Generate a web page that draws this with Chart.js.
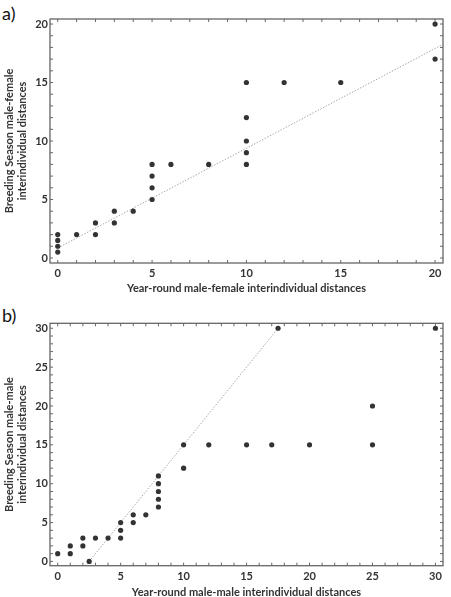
<!DOCTYPE html>
<html>
<head>
<meta charset="utf-8">
<script src="https://cdn.jsdelivr.net/npm/chart.js@4"></script>
<style>
  html, body { margin: 0; padding: 0; background: #fff; overflow: hidden; }
  #wrap { position: relative; width: 451px; height: 597px; }
  canvas { position: absolute; left: 0; }
  .panel-tag { position: absolute; left: 2px; font-family: "Lato", sans-serif; font-size: 18px; color: #111; }
</style>
</head>
<body>
<div id="wrap">
  <div class="panel-tag" style="top:2px;">a)</div>
  <div class="panel-tag" style="top:304px;">b)</div>
  <canvas id="chartA" width="451" height="300" style="top:0;"></canvas>
  <canvas id="chartB" width="451" height="304" style="top:300px;"></canvas>
</div>
<script>
// panel a: male-female distances
const aX = [0, 0, 0, 0, 1, 2, 2, 3, 3, 4, 5, 5, 5, 5, 6, 8, 10, 10, 10, 10, 10, 12, 15, 20, 20];
const aY = [0.5, 1, 1.5, 2, 2, 2, 3, 3, 4, 4, 5, 6, 7, 8, 8, 8, 8, 9, 10, 12, 15, 15, 15, 17, 20];
const aLineX = [0, 20.4];
const aLineY = [0.85, 18.25];
const aTicks = [0, 5, 10, 15, 20];

// panel b: male-male distances
const bX = [0, 1, 1, 2, 2, 2.5, 3, 4, 5, 5, 5, 6, 6, 7, 8, 8, 8, 8, 8, 10, 10, 12, 15, 17, 20, 25, 25, 17.5, 30];
const bY = [1, 1, 2, 2, 3, 0, 3, 3, 3, 4, 5, 5, 6, 6, 7, 8, 9, 10, 11, 12, 15, 15, 15, 15, 15, 15, 20, 30, 30];
const bLineX = [2.5, 17.5];
const bLineY = [0, 30];
const bTicks = [0, 5, 10, 15, 20, 25, 30];

const FONT = 'Lato, sans-serif';
const TEXT = '#333';

// frame + small inward ticks on all four sides
const framePlugin = {
  id: 'frameTicks',
  afterDraw(chart) {
    const ctx = chart.ctx;
    const ca = chart.chartArea;
    const sx = chart.scales.x, sy = chart.scales.y;
    const len = 3;
    ctx.save();
    ctx.setLineDash([]);
    ctx.globalAlpha = 1;
    ctx.strokeStyle = '#666';
    ctx.lineWidth = 1.3;
    ctx.strokeRect(ca.left, ca.top, ca.right - ca.left, ca.bottom - ca.top);
    ctx.lineWidth = 1;
    ctx.beginPath();
    for (let v = Math.ceil(sx.min); v <= sx.max; v++) {
      const px = sx.getPixelForValue(v);
      ctx.moveTo(px, ca.bottom); ctx.lineTo(px, ca.bottom - len);
      ctx.moveTo(px, ca.top); ctx.lineTo(px, ca.top + len);
    }
    for (let v = Math.ceil(sy.min); v <= sy.max; v++) {
      const py = sy.getPixelForValue(v);
      ctx.moveTo(ca.left, py); ctx.lineTo(ca.left + len, py);
      ctx.moveTo(ca.right, py); ctx.lineTo(ca.right - len, py);
    }
    ctx.stroke();
    ctx.restore();
  }
};

function toPoints(xs, ys) {
  return xs.map((x, i) => ({ x: x, y: ys[i] }));
}

function makeChart(id, cfg) {
  return new Chart(document.getElementById(id), {
    type: 'scatter',
    data: {
      datasets: [
        { data: toPoints(cfg.lineX, cfg.lineY), showLine: true, borderColor: '#a8a8a8', borderWidth: 1, borderDash: [1.5, 1.5], pointRadius: 0, order: 2 },
        { data: toPoints(cfg.xs, cfg.ys), backgroundColor: '#333', borderWidth: 0, pointRadius: 2.6, order: 1 }
      ]
    },
    options: {
      responsive: false,
      animation: false,
      layout: { padding: { top: cfg.top, right: 8, left: 0, bottom: 0 } },
      plugins: { legend: { display: false }, tooltip: { enabled: false } },
      scales: {
        x: {
          min: cfg.xMin, max: cfg.xMax,
          grid: { display: false, drawTicks: false, tickLength: 0 },
          border: { display: false },
          afterBuildTicks: s => { s.ticks = cfg.ticks.map(v => ({ value: v })); },
          afterFit: s => { s.height = cfg.xAxisH; },
          ticks: { padding: 4, color: TEXT, font: { family: FONT, size: 11, weight: 'bold' }, maxRotation: 0 },
          title: { display: true, text: cfg.xTitle, color: TEXT, font: { family: FONT, size: 11, weight: 'bold' }, padding: { top: 0, bottom: 5 } }
        },
        y: {
          min: cfg.yMin, max: cfg.yMax,
          grid: { display: false, drawTicks: false, tickLength: 0 },
          border: { display: false },
          afterBuildTicks: s => { s.ticks = cfg.ticks.map(v => ({ value: v })); },
          afterFit: s => { s.width = 50; },
          ticks: { padding: 2, color: TEXT, font: { family: FONT, size: 11, weight: 'bold' } },
          title: { display: true, text: cfg.yTitle, color: TEXT, font: { family: FONT, size: 11, weight: 'bold' }, padding: { top: 2.4, bottom: 0 } }
        }
      }
    },
    plugins: [framePlugin]
  });
}

makeChart('chartA', {
  xs: aX, ys: aY, lineX: aLineX, lineY: aLineY, ticks: aTicks,
  xMin: -0.41, xMax: 20.42, yMin: -0.43, yMax: 20.43,
  top: 19, xAxisH: 37,
  xTitle: 'Year-round male-female interindividual distances',
  yTitle: ['Breeding Season male-female', 'interindividual distances']
});

makeChart('chartB', {
  xs: bX, ys: bY, lineX: bLineX, lineY: bLineY, ticks: bTicks,
  xMin: -0.61, xMax: 30.6, yMin: -0.55, yMax: 30.64,
  top: 23.3, xAxisH: 38.3,
  xTitle: 'Year-round male-male interindividual distances',
  yTitle: ['Breeding Season male-male', 'interindividual distances']
});
</script>
</body>
</html>
